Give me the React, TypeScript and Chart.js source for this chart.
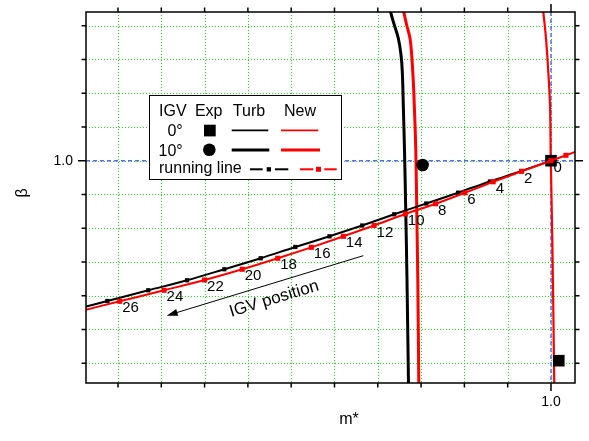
import { useEffect, useRef } from "react";
import { Chart, registerables } from "chart.js";

Chart.register(...registerables);

const FONT = '"Liberation Sans", Arial, Helvetica, sans-serif';

// Axis ranges: corrected mass flow m* (x) and pressure ratio β (y)
const X_MIN = 0.78522;
const X_MAX = 1.01109;
const X_STEP = 0.02;
const Y_MIN = 0.67076;
const Y_MAX = 1.22023;
const Y_STEP = 0.05;
const DESIGN_M = 1.0;
const DESIGN_BETA = 1.0;

// IGV angles along the running line (degrees)
const IGV_LABELS = ["26", "24", "22", "20", "18", "16", "14", "12", "10", "8", "6", "4", "2", "0"];

// Running line, Turb model (first entry is where the line enters the plot)
const RUN_TURB_M = [0.7852, 0.7951, 0.814, 0.8319, 0.8491, 0.8659, 0.8819, 0.8977, 0.9128, 0.9276, 0.9424, 0.9571, 0.9718, 0.9864, 1.0];
const RUN_TURB_BETA = [0.7841, 0.7922, 0.8081, 0.8229, 0.8392, 0.8555, 0.8722, 0.888, 0.904, 0.9206, 0.9366, 0.9526, 0.9692, 0.9847, 1.0];

// Running line, New model (first and last entries are the line's ends)
const RUN_NEW_M = [0.7852, 0.8008, 0.8213, 0.84, 0.8574, 0.8738, 0.8893, 0.9041, 0.9183, 0.9327, 0.9467, 0.9602, 0.9733, 0.9864, 1.0, 1.0069, 1.0111];
const RUN_NEW_BETA = [0.7793, 0.7918, 0.8081, 0.8233, 0.8392, 0.8555, 0.8717, 0.888, 0.904, 0.9211, 0.9362, 0.9525, 0.9688, 0.9842, 1.0, 1.008, 1.0129];

// Speed lines, IGV 10°
const SPEED_TURB_10_M = [0.92587, 0.92716, 0.92947, 0.93072, 0.93132, 0.93178, 0.93233, 0.93293, 0.93349, 0.93418];
const SPEED_TURB_10_BETA = [1.2207, 1.2059, 1.1813, 1.1565, 1.1318, 1.0825, 1.0158, 0.9225, 0.8233, 0.668];
const SPEED_NEW_10_M = [0.93196, 0.93335, 0.93487, 0.93566, 0.9364, 0.93686, 0.93755, 0.93801, 0.93848, 0.93894];
const SPEED_NEW_10_BETA = [1.2207, 1.201, 1.1813, 1.1565, 1.117, 1.0825, 1.0158, 0.9225, 0.8233, 0.668];

// Speed line, IGV 0°, New model
const SPEED_NEW_0_M = [0.99644, 0.99769, 0.99875, 0.99954, 0.99991, 1.00069, 1.00152];
const SPEED_NEW_0_BETA = [1.2207, 1.1813, 1.1318, 1.0825, 1.001, 0.8677, 0.668];

// Experimental points
const EXP_0_M = [1.0, 1.0036];
const EXP_0_BETA = [1.0, 0.7038];
const EXP_10_M = [0.9407];
const EXP_10_BETA = [0.9936];

// "IGV position" arrow (tail, head) and its caption
const ARROW_M = [0.9133, 0.8225];
const ARROW_BETA = [0.8593, 0.7705];
const ARROW_TEXT_M = 0.8721;
const ARROW_TEXT_BETA = 0.7952;

const RED = "#ff0000";
const BLACK = "#000000";
const GRID_COLOR = "#00f000";
const REF_COLOR = "#6464ff";

const pts = (xs: number[], ys: number[]) => xs.map((x, i) => ({ x, y: ys[i] }));

const decorPlugin = {
  id: "decor",
  beforeDatasetsDraw(chart: any) {
    const { ctx, chartArea: a } = chart;
    const xs = chart.scales.x;
    const ys = chart.scales.y;
    ctx.save();
    // dotted grid
    ctx.lineWidth = 1;
    ctx.strokeStyle = GRID_COLOR;
    ctx.setLineDash([1, 2]);
    ctx.beginPath();
    xs.ticks.forEach((t: any) => {
      const p = Math.round(xs.getPixelForValue(t.value)) + 0.5;
      ctx.moveTo(p, a.top);
      ctx.lineTo(p, a.bottom);
    });
    ys.ticks.forEach((t: any) => {
      const p = Math.round(ys.getPixelForValue(t.value)) + 0.5;
      ctx.moveTo(a.left, p);
      ctx.lineTo(a.right, p);
    });
    ctx.stroke();
    // design point reference lines
    ctx.strokeStyle = REF_COLOR;
    ctx.lineWidth = 1.5;
    ctx.setLineDash([4, 3]);
    const rx = xs.getPixelForValue(DESIGN_M);
    const ry = ys.getPixelForValue(DESIGN_BETA);
    ctx.beginPath();
    ctx.moveTo(rx, a.top);
    ctx.lineTo(rx, a.bottom);
    ctx.moveTo(a.left, ry);
    ctx.lineTo(a.right, ry);
    ctx.stroke();
    ctx.restore();
  },
  afterDatasetsDraw(chart: any) {
    const { ctx, chartArea: a } = chart;
    const xs = chart.scales.x;
    const ys = chart.scales.y;
    ctx.save();
    ctx.setLineDash([]);

    // IGV angle labels next to the New-model markers
    ctx.fillStyle = BLACK;
    ctx.font = `15px ${FONT}`;
    ctx.textAlign = "left";
    ctx.textBaseline = "middle";
    IGV_LABELS.forEach((lab, i) => {
      const px = xs.getPixelForValue(RUN_NEW_M[i + 1]);
      const py = ys.getPixelForValue(RUN_NEW_BETA[i + 1]);
      ctx.fillText(lab, px + 2.5, py + 7);
    });

    // IGV position arrow
    const x0 = xs.getPixelForValue(ARROW_M[0]);
    const y0 = ys.getPixelForValue(ARROW_BETA[0]);
    const x1 = xs.getPixelForValue(ARROW_M[1]);
    const y1 = ys.getPixelForValue(ARROW_BETA[1]);
    const ang = Math.atan2(y1 - y0, x1 - x0);
    ctx.strokeStyle = BLACK;
    ctx.lineWidth = 1;
    ctx.beginPath();
    ctx.moveTo(x0, y0);
    ctx.lineTo(x1 - Math.cos(ang) * 6, y1 - Math.sin(ang) * 6);
    ctx.stroke();
    ctx.beginPath();
    ctx.moveTo(x1, y1);
    ctx.lineTo(x1 - Math.cos(ang) * 11 + Math.sin(ang) * 3.5, y1 - Math.sin(ang) * 11 - Math.cos(ang) * 3.5);
    ctx.lineTo(x1 - Math.cos(ang) * 11 - Math.sin(ang) * 3.5, y1 - Math.sin(ang) * 11 + Math.cos(ang) * 3.5);
    ctx.closePath();
    ctx.fill();
    ctx.save();
    ctx.translate(xs.getPixelForValue(ARROW_TEXT_M), ys.getPixelForValue(ARROW_TEXT_BETA));
    ctx.rotate(Math.atan2(y0 - y1, x0 - x1));
    ctx.font = `17px ${FONT}`;
    ctx.textAlign = "center";
    ctx.textBaseline = "middle";
    ctx.fillText("IGV position", 0, 0);
    ctx.restore();

    // frame with outward ticks on all four sides
    ctx.strokeStyle = BLACK;
    ctx.lineWidth = 1.5;
    ctx.strokeRect(a.left, a.top, a.right - a.left, a.bottom - a.top);
    ctx.beginPath();
    xs.ticks.forEach((t: any) => {
      const p = xs.getPixelForValue(t.value);
      const len = Math.abs(t.value - DESIGN_M) < 1e-6 ? 8 : 4.5;
      ctx.moveTo(p, a.bottom);
      ctx.lineTo(p, a.bottom + len);
      ctx.moveTo(p, a.top);
      ctx.lineTo(p, a.top - len);
    });
    ys.ticks.forEach((t: any) => {
      const p = ys.getPixelForValue(t.value);
      const len = Math.abs(t.value - DESIGN_BETA) < 1e-6 ? 8 : 4.5;
      ctx.moveTo(a.left, p);
      ctx.lineTo(a.left - len, p);
      ctx.moveTo(a.right, p);
      ctx.lineTo(a.right + len, p);
    });
    ctx.stroke();

    // axis titles
    ctx.fillStyle = BLACK;
    ctx.font = `16px ${FONT}`;
    ctx.textAlign = "center";
    ctx.textBaseline = "middle";
    ctx.fillText("m*", 349, 420);
    ctx.save();
    ctx.translate(22.5, 193);
    ctx.rotate(-Math.PI / 2);
    ctx.fillText("β", 0, 0);
    ctx.restore();

    // legend
    ctx.fillStyle = "#ffffff";
    ctx.fillRect(149.5, 95.5, 192, 84);
    ctx.lineWidth = 1;
    ctx.strokeStyle = BLACK;
    ctx.strokeRect(149.5, 95.5, 192, 84);
    ctx.fillStyle = BLACK;
    ctx.font = `16px ${FONT}`;
    ctx.textBaseline = "alphabetic";
    ctx.textAlign = "left";
    ctx.fillText("IGV", 159, 116);
    ctx.textAlign = "center";
    ctx.fillText("Exp", 208.7, 116);
    ctx.fillText("Turb", 249, 116);
    ctx.fillText("New", 300, 116);
    ctx.textAlign = "right";
    ctx.fillText("0°", 182.7, 135.7);
    ctx.fillText("10°", 182.7, 155.7);
    ctx.textAlign = "left";
    ctx.fillText("running line", 159, 173);
    ctx.fillRect(204, 124.7, 11.7, 11.7);
    ctx.beginPath();
    ctx.arc(209.3, 149.7, 6.3, 0, Math.PI * 2);
    ctx.fill();
    const seg = (c: string, w: number, xa: number, xb: number, y: number) => {
      ctx.strokeStyle = c;
      ctx.lineWidth = w;
      ctx.beginPath();
      ctx.moveTo(xa, y);
      ctx.lineTo(xb, y);
      ctx.stroke();
    };
    seg(BLACK, 1.8, 231.7, 268.3, 130.3);
    seg(RED, 1.8, 281, 318.3, 130.3);
    seg(BLACK, 3, 231.7, 269.3, 150);
    seg(RED, 3, 281, 320, 150);
    seg(BLACK, 2, 250, 262.7, 169.3);
    seg(BLACK, 2, 275, 288.3, 169.3);
    ctx.fillStyle = BLACK;
    ctx.fillRect(266.7, 167.2, 4.3, 4.3);
    seg(RED, 2, 300, 313.3, 169.3);
    seg(RED, 2, 324.3, 336.7, 169.3);
    ctx.fillStyle = RED;
    ctx.fillRect(316, 166.8, 5, 5);

    ctx.restore();
  },
};

// keep the plot frame fixed: no extra room for overhanging tick labels
const zeroPad = (s: any) => {
  s.paddingLeft = 0;
  s.paddingRight = 0;
  s.paddingTop = 0;
  s.paddingBottom = 0;
};

export default function App() {
  const ref = useRef<HTMLCanvasElement | null>(null);

  useEffect(() => {
    if (!ref.current) return;
    const tickFont = { family: FONT, size: 14 };
    const nNew = RUN_NEW_M.length;
    const chart = new Chart(ref.current, {
      type: "scatter",
      data: {
        datasets: [
          {
            label: "running line New",
            data: pts(RUN_NEW_M, RUN_NEW_BETA),
            showLine: true,
            borderColor: RED,
            backgroundColor: RED,
            borderWidth: 2,
            cubicInterpolationMode: "monotone",
            pointStyle: "rect",
            pointRadius: (c: any) => (c.dataIndex === 0 || c.dataIndex === nNew - 1 ? 0 : 3.6),
            pointBorderWidth: 0,
            order: 1,
          },
          {
            label: "running line Turb",
            data: pts(RUN_TURB_M, RUN_TURB_BETA),
            showLine: true,
            borderColor: BLACK,
            backgroundColor: BLACK,
            borderWidth: 2,
            cubicInterpolationMode: "monotone",
            pointStyle: "rect",
            pointRadius: (c: any) => (c.dataIndex === 0 ? 0 : 3),
            pointBorderWidth: 0,
            order: 2,
          },
          {
            label: "Exp 0°",
            data: pts(EXP_0_M, EXP_0_BETA),
            pointStyle: "rect",
            pointRadius: 8.2,
            backgroundColor: BLACK,
            borderColor: BLACK,
            pointBorderWidth: 0,
            order: 3,
          },
          {
            label: "Exp 10°",
            data: pts(EXP_10_M, EXP_10_BETA),
            pointStyle: "circle",
            pointRadius: 6.3,
            backgroundColor: BLACK,
            borderColor: BLACK,
            pointBorderWidth: 0,
            order: 4,
          },
          {
            label: "New 10°",
            data: pts(SPEED_NEW_10_M, SPEED_NEW_10_BETA),
            showLine: true,
            borderColor: RED,
            borderWidth: 3,
            tension: 0.4,
            pointRadius: 0,
            order: 5,
          },
          {
            label: "Turb 10°",
            data: pts(SPEED_TURB_10_M, SPEED_TURB_10_BETA),
            showLine: true,
            borderColor: BLACK,
            borderWidth: 3,
            tension: 0.4,
            pointRadius: 0,
            order: 6,
          },
          {
            label: "New 0°",
            data: pts(SPEED_NEW_0_M, SPEED_NEW_0_BETA),
            showLine: true,
            borderColor: RED,
            borderWidth: 2.2,
            tension: 0.4,
            pointRadius: 0,
            order: 7,
          },
        ],
      },
      options: {
        responsive: false,
        animation: false,
        devicePixelRatio: 1,
        events: [],
        layout: { padding: { top: 12, right: 14, left: 0, bottom: 0 } },
        plugins: { legend: { display: false }, tooltip: { enabled: false } },
        scales: {
          x: {
            type: "linear",
            position: "bottom",
            min: X_MIN,
            max: X_MAX,
            afterFit: (s: any) => {
              s.height = 58;
              zeroPad(s);
            },
            grid: { display: false, drawTicks: false },
            border: { display: false },
            ticks: {
              stepSize: X_STEP,
              includeBounds: false,
              autoSkip: false,
              maxRotation: 0,
              padding: 11,
              color: BLACK,
              font: tickFont,
              callback: (v: any) => (Math.abs(Number(v) - DESIGN_M) < 1e-6 ? "1.0" : ""),
            },
          },
          y: {
            type: "linear",
            position: "left",
            min: Y_MIN,
            max: Y_MAX,
            afterFit: (s: any) => {
              s.width = 86;
              zeroPad(s);
            },
            grid: { display: false, drawTicks: false },
            border: { display: false },
            ticks: {
              stepSize: Y_STEP,
              includeBounds: false,
              autoSkip: false,
              padding: 13,
              color: BLACK,
              font: tickFont,
              callback: (v: any) => (Math.abs(Number(v) - DESIGN_BETA) < 1e-6 ? "1.0" : ""),
            },
          },
        },
      },
      plugins: [decorPlugin],
    } as any);
    return () => chart.destroy();
  }, []);

  return (
    <div style={{ position: "fixed", left: 0, top: 0, width: 589, height: 441, background: "#ffffff" }}>
      <canvas ref={ref} width={589} height={441} style={{ display: "block", width: 589, height: 441 }} />
    </div>
  );
}
